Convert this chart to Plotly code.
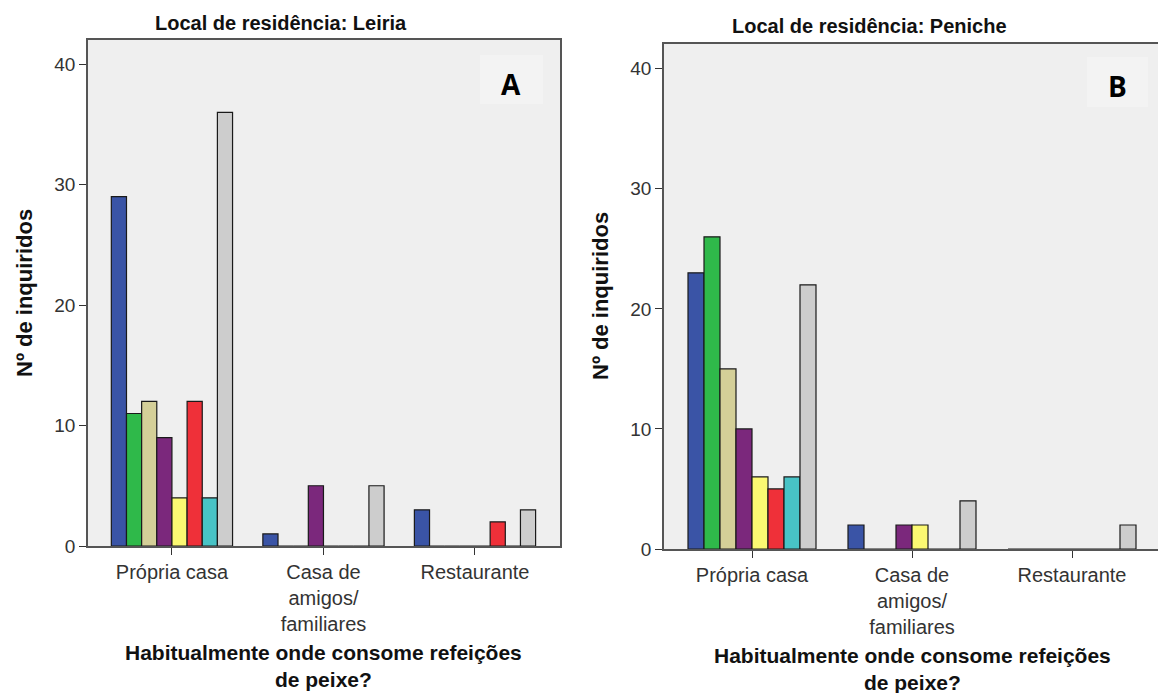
import plotly.graph_objects as go

categories = ["Própria casa", "Casa de<br>amigos/<br>familiares", "Restaurante"]
series_names = ["Série 1", "Série 2", "Série 3", "Série 4", "Série 5", "Série 6", "Série 7", "Série 8"]
series_colors = ["#3A54A6", "#2FB94A", "#D4CF98", "#7B287C", "#FBF872", "#EF3039", "#48C3C6", "#CDCDCD"]

# Leiria (panel A): one list per series, values for each category
leiria_values = [
    [29, 1, 3],
    [11, 0, 0],
    [12, 0, 0],
    [9, 5, 0],
    [4, 0, 0],
    [12, 0, 2],
    [4, 0, 0],
    [36, 5, 3],
]
# Peniche (panel B)
peniche_values = [
    [23, 2, 0],
    [26, 0, 0],
    [15, 0, 0],
    [10, 2, 0],
    [6, 2, 0],
    [5, 0, 0],
    [6, 0, 0],
    [22, 4, 2],
]
y_ticks = [0, 10, 20, 30, 40]
panel_titles = ["Local de residência: Leiria", "Local de residência: Peniche"]
panel_letters = ["A", "B"]
x_title = "Habitualmente onde consome refeições<br>de peixe?"
y_title = "Nº de inquiridos"

W, H = 1158, 693
FONT = "Liberation Sans, Arial, sans-serif"

fig = go.Figure()
for i, name in enumerate(series_names):
    for vals, xa, ya in ((leiria_values, "x", "y"), (peniche_values, "x2", "y2")):
        fig.add_trace(go.Bar(
            x=categories, y=vals[i], name=name, xaxis=xa, yaxis=ya,
            marker=dict(color=series_colors[i], line=dict(color="#1a1a1a", width=1.2)),
            showlegend=False, offsetgroup=str(i),
        ))

def px_x(p):
    return p / W

def px_y(p):
    return 1 - p / H

axis_common = dict(showgrid=False, zeroline=False, showline=True, linecolor="#555555", linewidth=1.6,
                   ticks="outside", ticklen=7, tickcolor="#333333", tickwidth=1.3, automargin=False)
xfont = dict(family=FONT, size=20, color="#333333")
yfont = dict(family=FONT, size=19, color="#333333")

fig.update_layout(
    width=W, height=H, margin=dict(l=0, r=0, t=0, b=0, autoexpand=False),
    paper_bgcolor="white", plot_bgcolor="#EFEFEF",
    barmode="group", bargap=0.2, bargroupgap=0,
    xaxis=dict(domain=[px_x(88), px_x(560)], anchor="y", type="category",
               range=[-0.554, 2.561], mirror=True, tickfont=xfont, **axis_common),
    yaxis=dict(domain=[px_y(546), px_y(40)], anchor="x", range=[0, 42],
               tickvals=y_ticks, mirror=True, tickfont=yfont, **axis_common),
    xaxis2=dict(domain=[px_x(664), 1.0], anchor="y2", type="category",
                range=[-0.55, 2.5375], mirror=True, tickfont=xfont, **axis_common),
    yaxis2=dict(domain=[px_y(549), px_y(43.5)], anchor="x2", range=[0, 42.1],
                tickvals=y_ticks, mirror=False, tickfont=yfont, **axis_common),
)

# subtle lighter boxes behind the panel letters
fig.add_shape(type="rect", xref="paper", yref="paper", x0=px_x(480), x1=px_x(543), y0=px_y(104), y1=px_y(55),
              fillcolor="#F3F3F3", line=dict(width=0), layer="below")
fig.add_shape(type="rect", xref="paper", yref="paper", x0=px_x(1087), x1=px_x(1148), y0=px_y(107), y1=px_y(57),
              fillcolor="#F3F3F3", line=dict(width=0), layer="below")

def text_ann(text, x, y, size, family=FONT, angle=0, color="#111111"):
    return dict(text=text, x=px_x(x), y=px_y(y), xref="paper", yref="paper",
                xanchor="center", yanchor="middle", textangle=angle,
                showarrow=False, font=dict(family=family, size=size, color=color))

ann = []
ann.append(text_ann("<b>" + panel_titles[0] + "</b>", 281, 23, 20))
ann.append(text_ann("<b>" + panel_titles[1] + "</b>", 869, 26, 20))
LETTER_FONT = "Liberation Sans Narrow, Open Sans, sans-serif"
ann.append(text_ann("<b>" + panel_letters[0] + "</b>", 511, 84, 28, LETTER_FONT, color="#000000"))
ann.append(text_ann("<b>" + panel_letters[1] + "</b>", 1117, 86, 28, LETTER_FONT, color="#000000"))
ann.append(text_ann("<b>" + y_title + "</b>", 25, 293, 22, angle=-90))
ann.append(text_ann("<b>" + y_title + "</b>", 600, 296, 22, angle=-90))
ann.append(text_ann("<b>" + x_title + "</b>", 323, 666, 21))
ann.append(text_ann("<b>" + x_title + "</b>", 912, 669, 21))
fig.update_layout(annotations=ann)

fig.write_html("out.html", post_script="document.body.style.margin='0';", config={"displayModeBar": False})
